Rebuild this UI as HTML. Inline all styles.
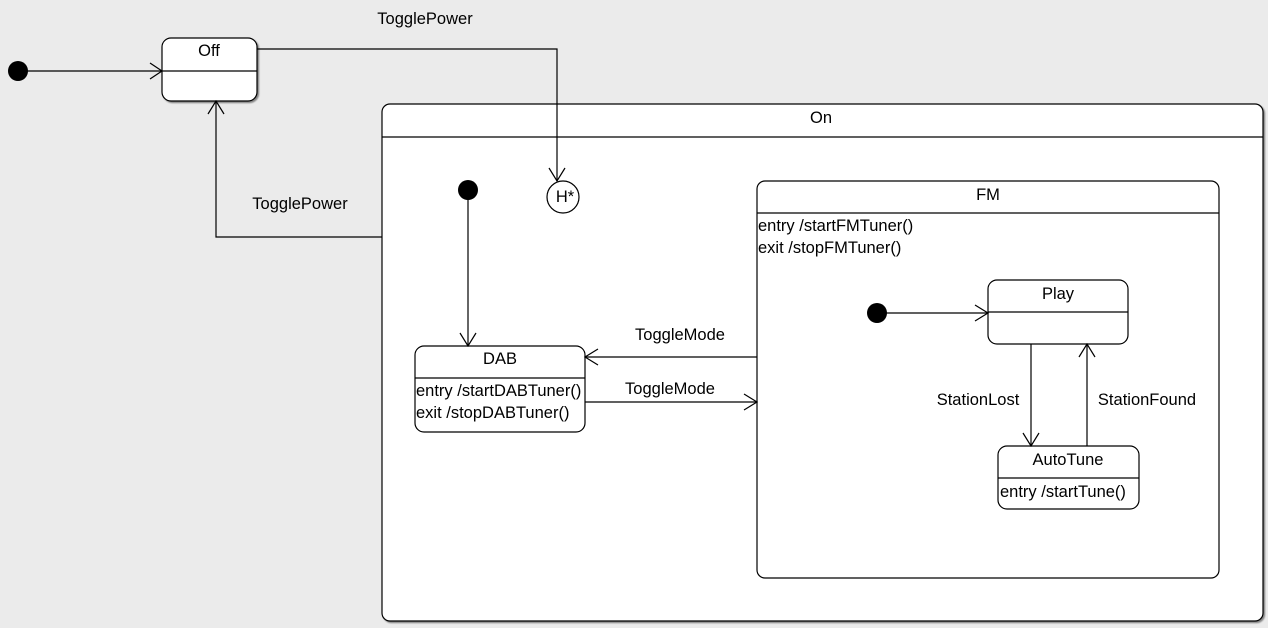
<!DOCTYPE html>
<html><head><meta charset="utf-8"><style>
html,body{margin:0;padding:0;background:#ebebeb;}
svg{display:block;}
text{font-family:"Liberation Sans",sans-serif;font-size:16.5px;fill:#000;}
</style></head><body>
<svg width="1268" height="628" viewBox="0 0 1268 628" xmlns="http://www.w3.org/2000/svg">
<rect x="0" y="0" width="1268" height="628" fill="#ebebeb"/>
<defs>
<filter id="sh" x="-5%" y="-5%" width="110%" height="110%"><feDropShadow dx="1.5" dy="1.5" stdDeviation="0.8" flood-color="#000" flood-opacity="0.45"/></filter>
</defs>
<g fill="#fff" stroke="#000" stroke-width="1.2" filter="url(#sh)">
<rect x="382" y="104" width="881" height="517" rx="8"/>
<rect x="162" y="38" width="95" height="63" rx="9"/>
<rect x="757" y="181" width="462" height="397" rx="8"/>
<rect x="415" y="346" width="170" height="86" rx="9"/>
<rect x="988" y="280" width="140" height="64" rx="9"/>
<rect x="998" y="446" width="141" height="63" rx="9"/>
<circle cx="563" cy="197" r="16"/>
</g>
<g stroke="#000" stroke-width="1.2" fill="none">
<line x1="382" y1="137" x2="1263" y2="137"/>
<line x1="162" y1="71" x2="257" y2="71"/>
<line x1="757" y1="213" x2="1219" y2="213"/>
<line x1="415" y1="378" x2="585" y2="378"/>
<line x1="988" y1="312" x2="1128" y2="312"/>
<line x1="998" y1="478" x2="1139" y2="478"/>
<polyline points="18,71 162,71"/><polyline points="150,63 162,71 150,79"/>
<polyline points="257,49 557,49 557,181"/><polyline points="549,168 557,181 565,168"/>
<polyline points="382,237 216,237 216,101"/><polyline points="208,114 216,101 224,114"/>
<polyline points="468,190 468,346"/><polyline points="460,333 468,346 476,333"/>
<polyline points="757,357 585,357"/><polyline points="598,349 585,357 598,365"/>
<polyline points="585,402 757,402"/><polyline points="744,394 757,402 744,410"/>
<polyline points="877,313 988,313"/><polyline points="975,305 988,313 975,321"/>
<polyline points="1031,344 1031,446"/><polyline points="1023,433 1031,446 1039,433"/>
<polyline points="1087,446 1087,344"/><polyline points="1079,357 1087,344 1095,357"/>
</g>
<g fill="#000">
<circle cx="18" cy="71" r="10"/>
<circle cx="468" cy="190" r="10"/>
<circle cx="877" cy="313" r="10"/>
</g>
<text x="209" y="56" text-anchor="middle">Off</text>
<text x="821" y="123" text-anchor="middle">On</text>
<text x="565" y="202" text-anchor="middle">H*</text>
<text x="425" y="24" text-anchor="middle">TogglePower</text>
<text x="300" y="209" text-anchor="middle">TogglePower</text>
<text x="988" y="200" text-anchor="middle">FM</text>
<text x="758" y="231">entry /startFMTuner()</text>
<text x="758" y="253">exit /stopFMTuner()</text>
<text x="500" y="364" text-anchor="middle">DAB</text>
<text x="416" y="396">entry /startDABTuner()</text>
<text x="416" y="418">exit /stopDABTuner()</text>
<text x="680" y="340" text-anchor="middle">ToggleMode</text>
<text x="670" y="394" text-anchor="middle">ToggleMode</text>
<text x="1058" y="299" text-anchor="middle">Play</text>
<text x="1068" y="465" text-anchor="middle">AutoTune</text>
<text x="1000" y="497">entry /startTune()</text>
<text x="978" y="405" text-anchor="middle">StationLost</text>
<text x="1147" y="405" text-anchor="middle">StationFound</text>
</svg>
</body></html>
